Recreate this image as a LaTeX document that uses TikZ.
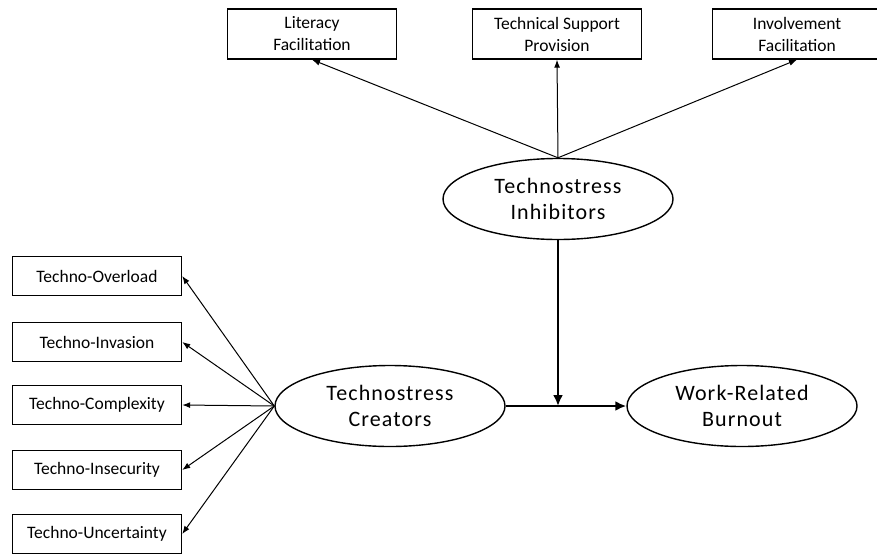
\documentclass[tikz,border=0pt]{standalone}
\usepackage{fontspec}
\setmainfont{Carlito}
\usetikzlibrary{shapes.geometric,arrows.meta}
\begin{document}
\begin{tikzpicture}[x=1pt,y=-1pt,
  box/.style={draw, line width=1.4pt, minimum width=169pt, minimum height=39pt,
    inner sep=0pt, align=center, font=\fontsize{17.5}{22}\selectfont},
  topbox/.style={box, minimum height=50pt},
  latent/.style={draw, ellipse, line width=1.4pt, minimum width=230pt,
    minimum height=81pt, inner sep=0pt, align=center,
    font=\fontsize{22}{26}\selectfont\addfontfeatures{LetterSpace=5}},
  thinarrow/.style={-{Latex[length=8pt,width=6pt]}, line width=1pt},
  boldarrow/.style={-{Latex[length=11pt,width=10pt]}, line width=2.6pt}]
\useasboundingbox (0,0) rectangle (877,554);

% indicator boxes of the inhibitors
\node[topbox] (lit) at (312,34) {Literacy\\Facilitation};
\node[topbox] (tsp) at (557,34) {Technical Support\\Provision};
\node[topbox] (inv) at (797,34) {Involvement\\Facilitation};

% latent constructs
\node[latent] (inh) at (558,199) {Technostress\\Inhibitors};
\node[latent] (cre) at (390,406) {Technostress\\Creators};
\node[latent] (bur) at (742,406) {Work-Related\\Burnout};

% indicator boxes of the creators
\node[box] (ovl) at (97,276) {Techno-Overload};
\node[box] (ivs) at (97,342) {Techno-Invasion};
\node[box] (cpx) at (97,405) {Techno-Complexity};
\node[box] (ins) at (97,470) {Techno-Insecurity};
\node[box] (unc) at (97,534) {Techno-Uncertainty};

% reflective paths from the inhibitors
\foreach \t in {lit,tsp,inv}
  \draw[thinarrow] (inh.north) -- (\t.south);

% reflective paths from the creators
\foreach \t in {ovl,ivs,cpx,ins,unc}
  \draw[thinarrow] (cre.west) -- (\t.east);

% structural path and moderation
\coordinate (mod) at (inh.south |- cre.east);
\draw[boldarrow] (cre.east) -- (bur.west);
\draw[boldarrow] (inh.south) -- (mod);
\end{tikzpicture}
\end{document}
